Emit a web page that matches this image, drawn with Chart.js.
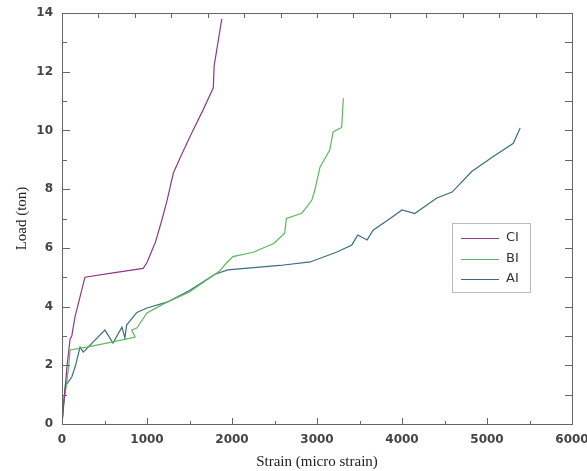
<!DOCTYPE html>
<html>
<head>
<meta charset="utf-8">
<script src="https://cdn.jsdelivr.net/npm/chart.js@4.4.0/dist/chart.umd.min.js"></script>
<style>
  body { margin: 0; background: #fff; }
  #wrap { width: 587px; height: 471px; }
</style>
</head>
<body>
<div id="wrap"><canvas id="loadChart"></canvas></div>
<script>
// values (strain in micro strain, load in ton)
const ciStrain = [0, 30, 60, 95, 115, 153, 212, 270, 600, 955, 1000, 1100, 1175, 1235, 1310, 1410, 1525, 1660, 1780, 1790, 1880];
const ciLoad   = [0, 1.0, 2.0, 2.9, 3.0, 3.65, 4.33, 5.0, 5.15, 5.3, 5.5, 6.2, 6.95, 7.6, 8.55, 9.2, 9.9, 10.7, 11.45, 12.2, 13.8];

const biStrain = [0, 20, 50, 80, 95, 290, 600, 860, 820, 880, 1000, 1200, 1500, 1850, 1940, 2010, 2250, 2490, 2620, 2640, 2820, 2880, 2940, 2975, 3035, 3150, 3190, 3290, 3310];
const biLoad   = [0, 0.7, 1.3, 2.0, 2.52, 2.62, 2.8, 2.96, 3.2, 3.27, 3.78, 4.1, 4.5, 5.2, 5.5, 5.7, 5.85, 6.15, 6.5, 7.0, 7.18, 7.4, 7.63, 7.97, 8.75, 9.33, 9.95, 10.1, 11.1];

const aiStrain = [0, 15, 40, 115, 160, 212, 250, 505, 600, 705, 740, 760, 880, 1000, 1235, 1500, 1800, 1950, 2560, 2920, 3235, 3410, 3480, 3590, 3660, 3860, 4000, 4150, 4410, 4590, 4820, 5070, 5310, 5390];
const aiLoad   = [0, 0.6, 1.3, 1.6, 2.0, 2.62, 2.45, 3.2, 2.76, 3.3, 2.93, 3.37, 3.8, 3.95, 4.15, 4.55, 5.1, 5.25, 5.4, 5.52, 5.86, 6.1, 6.44, 6.27, 6.6, 7.0, 7.29, 7.17, 7.7, 7.9, 8.6, 9.1, 9.56, 10.08];

const seriesNames = ['CI', 'BI', 'AI'];
const seriesColors = ['#8e3a86', '#5cb85c', '#3a6f80'];

function toPoints(xs, ys) {
  return xs.map((x, i) => ({ x: x, y: ys[i] }));
}

// box, inward ticks and the legend inside the plot
const framePlugin = {
  id: 'frame',
  afterDatasetsDraw(chart) {
    const ctx = chart.ctx;
    const a = chart.chartArea;
    const xs = chart.scales.x;
    const ys = chart.scales.y;
    ctx.save();
    ctx.strokeStyle = '#666';
    ctx.lineWidth = 1;
    ctx.strokeRect(Math.round(a.left) + 0.5, Math.round(a.top) + 0.5, Math.round(a.right - a.left), Math.round(a.bottom - a.top));
    ctx.beginPath();
    for (let v = 0; v <= 6000; v += 500) {
      const px = Math.round(xs.getPixelForValue(v)) + 0.5;
      const len = v % 1000 === 0 ? 6 : 3;
      ctx.moveTo(px, a.bottom); ctx.lineTo(px, a.bottom - len);
    }
    for (let i = 1; i < 14; i++) {
      const px = Math.round(xs.getPixelForValue(6000 * i / 14)) + 0.5;
      ctx.moveTo(px, a.top); ctx.lineTo(px, a.top + 5);
    }
    for (let v = 1; v < 14; v++) {
      const py = Math.round(ys.getPixelForValue(v)) + 0.5;
      const len = v % 2 === 0 ? 8 : 5;
      ctx.moveTo(a.left, py); ctx.lineTo(a.left + len, py);
      ctx.moveTo(a.right, py); ctx.lineTo(a.right - 7, py);
    }
    ctx.stroke();

    // legend
    const bx = a.right - 120, by = a.top + 210;
    ctx.strokeStyle = '#bbb';
    ctx.strokeRect(bx + 0.5, by + 0.5, 78, 69);
    ctx.font = '13px "DejaVu Sans"';
    ctx.textBaseline = 'middle';
    chart.data.datasets.forEach((ds, i) => {
      const ly = by + 15 + i * 20.5;
      ctx.strokeStyle = ds.borderColor;
      ctx.beginPath();
      ctx.moveTo(bx + 9, Math.round(ly) + 0.5);
      ctx.lineTo(bx + 47, Math.round(ly) + 0.5);
      ctx.stroke();
      ctx.fillStyle = '#333';
      ctx.fillText(ds.label, bx + 54, ly);
    });
    ctx.restore();
  }
};

const ctx = document.getElementById('loadChart').getContext('2d');
const loadChart = new Chart(ctx, {
  type: 'scatter',
  data: {
    datasets: [
      { label: seriesNames[0], data: toPoints(ciStrain, ciLoad), borderColor: seriesColors[0] },
      { label: seriesNames[1], data: toPoints(biStrain, biLoad), borderColor: seriesColors[1] },
      { label: seriesNames[2], data: toPoints(aiStrain, aiLoad), borderColor: seriesColors[2] }
    ]
  },
  options: {
    responsive: true,
    maintainAspectRatio: false,
    animation: false,
    showLine: true,
    elements: {
      point: { radius: 0, hoverRadius: 0 },
      line: { borderWidth: 1.2, tension: 0, fill: false }
    },
    layout: { padding: { top: 13, right: 15, left: 0, bottom: 0 } },
    plugins: {
      legend: { display: false },
      tooltip: { enabled: false }
    },
    scales: {
      x: {
        type: 'linear',
        min: 0,
        max: 6000,
        grid: { display: false, drawTicks: false },
        border: { display: false },
        ticks: {
          stepSize: 1000, padding: 9, color: '#444', maxRotation: 0,
          font: { family: 'DejaVu Sans', size: 12, weight: 'bold' },
          callback: (v) => String(v)
        },
        title: { display: true, text: 'Strain (micro strain)', color: '#222', padding: { top: 2, bottom: 0 }, font: { family: 'Liberation Serif', size: 15 } },
        afterFit(scale) {
          scale.height = 47;
          scale.paddingLeft = 0;
          scale.paddingRight = 0;
        }
      },
      y: {
        min: 0,
        max: 14,
        grid: { display: false, drawTicks: false },
        border: { display: false },
        ticks: { stepSize: 2, padding: 9, color: '#444', font: { family: 'DejaVu Sans', size: 12, weight: 'bold' } },
        title: { display: true, text: 'Load (ton)', color: '#222', padding: { top: 13, bottom: 0 }, font: { family: 'Liberation Serif', size: 15 } },
        afterFit(scale) {
          scale.width = 62;
          scale.paddingTop = 0;
          scale.paddingBottom = 0;
        }
      }
    }
  },
  plugins: [framePlugin]
});
</script>
</body>
</html>
